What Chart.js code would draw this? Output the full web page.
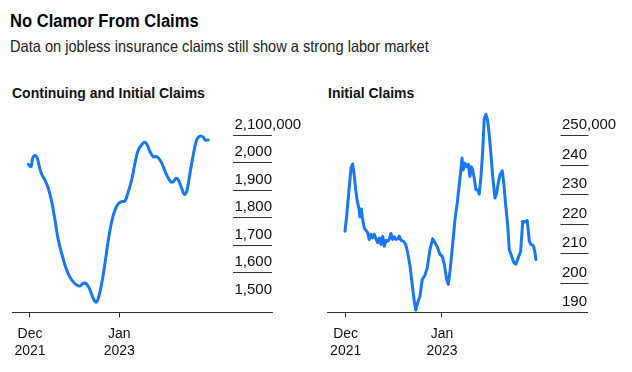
<!DOCTYPE html>
<html lang="en">
<head>
<meta charset="utf-8">
<title>No Clamor From Claims</title>
<script src="https://cdn.jsdelivr.net/npm/chart.js"></script>
<style>
  body { margin: 0; background: #fff; font-family: "Liberation Sans", Arial, sans-serif; color: #111; }
  .page { position: relative; width: 632px; height: 372px; overflow: hidden; }
  .title { position: absolute; left: 10px; top: 12px; font-size: 18px; line-height: 18px; font-weight: bold; color: #000; transform: scaleX(0.92); transform-origin: left; white-space: nowrap; }
  .subtitle { position: absolute; left: 10px; top: 38px; font-size: 16.5px; line-height: 16.5px; color: #222; transform: scaleX(0.885); transform-origin: left; white-space: nowrap; }
  .panel-title { position: absolute; top: 86px; font-size: 14px; line-height: 14px; font-weight: bold; color: #111; white-space: nowrap; }
  canvas { position: absolute; top: 100px; }
</style>
</head>
<body>
<div class="page">
  <div class="title">No Clamor From Claims</div>
  <div class="subtitle">Data on jobless insurance claims still show a strong labor market</div>
  <div class="panel-title" style="left:12px">Continuing and Initial Claims</div>
  <div class="panel-title" style="left:328px">Initial Claims</div>
  <canvas id="contChart" width="316" height="272" style="left:0"></canvas>
  <canvas id="initChart" width="316" height="272" style="left:316px"></canvas>
</div>

<script>
// x in months since Dec 2021 (0 = Dec 2021, 13 = Jan 2023)
const xTickMonths = [0, 13];
const xTickLabels = [['Dec', '2021'], ['Jan', '2023']];

// continuing claims (left panel)
const contMonths = [-0.25, 0.15, 0.39, 0.73, 1.06, 1.35, 1.70, 2.18, 2.66, 3.16, 3.64, 4.12, 4.61, 5.34, 6.07, 6.80,
  7.28, 7.76, 8.25, 8.73, 9.21, 9.61, 9.94, 10.44, 10.92, 11.40, 11.89, 12.37, 12.85, 13.35, 13.83, 14.31,
  14.80, 15.28, 15.76, 16.26, 16.59, 16.99, 17.47, 17.95, 18.44, 18.92, 19.40, 19.90, 20.48, 20.86, 21.25,
  21.59, 22.08, 22.46, 22.81, 23.29, 23.77, 24.26, 24.75, 25.23, 25.47, 25.95];
const contValues = [1993000, 1985000, 2015000, 2025000, 2015000, 1985000, 1957000, 1936000, 1906000, 1857000,
  1790000, 1718000, 1669000, 1608000, 1572000, 1554000, 1550000, 1560000, 1557000, 1536000, 1505000, 1491000,
  1505000, 1560000, 1633000, 1718000, 1784000, 1827000, 1849000, 1857000, 1860000, 1894000, 1936000, 1997000,
  2045000, 2064000, 2073000, 2067000, 2039000, 2021000, 2021000, 2009000, 1985000, 1954000, 1930000, 1930000,
  1942000, 1936000, 1906000, 1884000, 1894000, 1961000, 2027000, 2082000, 2096000, 2092000, 2082000, 2082000];
const contTicks = [1500000, 1600000, 1700000, 1800000, 1900000, 2000000, 2100000];
const contTickLabels = ['1,500', '1,600', '1,700', '1,800', '1,900', '2,000', '2,100'];

// initial claims (right panel)
const initMonths = [-0.09, 0.13, 0.45, 0.72, 0.94, 1.12, 1.35, 1.57, 1.79, 1.93, 2.11, 2.29, 2.51, 2.74, 2.97,
  3.18, 3.41, 3.64, 3.86, 4.09, 4.32, 4.53, 4.76, 4.99, 5.21, 5.44, 5.67, 5.88, 6.11, 6.34, 6.56, 6.79, 7.02,
  7.23, 7.46, 7.77, 8.10, 8.37, 8.68, 8.95, 9.22, 9.45, 9.72, 10.03, 10.34, 10.70, 11.01, 11.38, 11.74, 12.05,
  12.36, 12.73, 13.04, 13.31, 13.63, 13.85, 14.08, 14.44, 14.75, 15.06, 15.33, 15.52, 15.70, 15.87, 16.10,
  16.33, 16.55, 16.77, 16.95, 17.14, 17.35, 17.58, 17.81, 18.03, 18.26, 18.49, 18.70, 18.93, 19.16, 19.38,
  19.61, 19.84, 20.15, 20.38, 20.59, 20.82, 21.13, 21.36, 21.59, 21.86, 22.08, 22.40, 22.71, 22.98, 23.29,
  23.62, 23.89, 24.20, 24.51, 24.78, 25.01, 25.32, 25.51, 25.68];
const initValues = [217500, 222500, 231500, 238800, 240200, 237100, 231500, 227600, 225300, 222300, 225000,
  221400, 218600, 217800, 216900, 214700, 216400, 215200, 216400, 214900, 213600, 215200, 213000, 215800,
  212400, 214400, 214100, 214700, 216700, 214700, 215600, 214700, 214900, 215800, 214400, 214100, 213000,
  210200, 205700, 200100, 194500, 190800, 193400, 195600, 201200, 202600, 205100, 211300, 214900, 213600,
  212200, 209600, 209000, 206300, 201200, 199500, 204000, 213000, 221400, 227100, 233200, 237600, 242200,
  238200, 240500, 239300, 240100, 236000, 239300, 238200, 235400, 231500, 231500, 230000, 236000, 244400,
  255600, 257000, 255000, 250000, 243300, 236000, 228700, 230400, 233700, 236500, 237900, 233200, 226400,
  219700, 211300, 209000, 206800, 206300, 208500, 210700, 220800, 220600, 221100, 214100, 213000, 212700,
  210700, 207900];
const initTicks = [190000, 200000, 210000, 220000, 230000, 240000, 250000];
const initTickLabels = ['190', '200', '210', '220', '230', '240', '250'];

const unitSuffix = ',000';
const lineColor = '#1877f2';
const fontFamily = '"Liberation Sans", Arial, sans-serif';

Chart.defaults.font.family = fontFamily;
Chart.defaults.color = '#111';

// short grid lines + labels sitting on them, at the right side of the plot
const sideTicks = {
  id: 'sideTicks',
  beforeDatasetsDraw(chart, args, opts) {
    const ctx = chart.ctx;
    const y = chart.scales.y;
    ctx.save();
    ctx.strokeStyle = '#333';
    ctx.lineWidth = 1;
    opts.values.forEach((v, i) => {
      if (i === 0) return; // bottom one has no line
      const py = Math.round(y.getPixelForValue(v)) + 0.5;
      ctx.beginPath();
      ctx.moveTo(opts.gridRight - opts.gridWidth, py);
      ctx.lineTo(opts.gridRight, py);
      ctx.stroke();
    });
    ctx.restore();
  },
  afterDraw(chart, args, opts) {
    const ctx = chart.ctx;
    const y = chart.scales.y;
    ctx.save();
    ctx.font = '15px ' + fontFamily;
    ctx.fillStyle = '#111';
    ctx.textBaseline = 'alphabetic';
    opts.values.forEach((v, i) => {
      const py = y.getPixelForValue(v) - 6;
      ctx.textAlign = 'right';
      ctx.fillText(opts.labels[i], opts.labelRight, py);
      if (i === opts.values.length - 1) {
        ctx.textAlign = 'left';
        ctx.fillText(unitSuffix, opts.labelRight, py);
      }
    });
    ctx.restore();
  }
};

function makeChart(id, months, values, o) {
  return new Chart(document.getElementById(id), {
    type: 'line',
    data: {
      datasets: [{
        data: months.map((m, i) => ({ x: m, y: values[i] })),
        borderColor: lineColor,
        borderWidth: 3,
        pointRadius: 0,
        tension: o.tension,
        borderJoinStyle: 'round',
        borderCapStyle: 'round'
      }]
    },
    options: {
      responsive: false,
      animation: false,
      layout: { padding: { left: o.left, right: o.right, top: 10, bottom: 4.5 } },
      plugins: {
        legend: { display: false },
        tooltip: { enabled: false },
        sideTicks: o.side
      },
      scales: {
        x: {
          type: 'linear',
          min: o.xMin,
          max: o.xMax,
          afterBuildTicks: s => { s.ticks = xTickMonths.map(v => ({ value: v })); },
          ticks: {
            callback: (v, i) => xTickLabels[i],
            padding: 8,
            maxRotation: 0,
            autoSkip: false,
            color: '#111',
            font: { size: 14, lineHeight: 1.2143 }
          },
          grid: { drawOnChartArea: false, drawTicks: true, tickLength: 5, color: '#333' },
          border: { display: true, color: '#333', width: 1 }
        },
        y: {
          display: false,
          min: o.yMin,
          max: o.yMax
        }
      }
    },
    plugins: [sideTicks]
  });
}

makeChart('contChart', contMonths, contValues, {
  left: 12, right: 44, tension: 0.4,
  xMin: -2.62, xMax: 35.23,
  yMin: 1453600, yMax: 2191000,
  side: { values: contTicks, labels: contTickLabels, gridRight: 272, gridWidth: 39, labelRight: 272 }
});

makeChart('initChart', initMonths, initValues, {
  left: 11, right: 45, tension: 0,
  xMin: -2.52, xMax: 32.57,
  yMin: 190000, yMax: 258460,
  side: { values: initTicks, labels: initTickLabels, gridRight: 272.5, gridWidth: 28, labelRight: 271 }
});
</script>
</body>
</html>
